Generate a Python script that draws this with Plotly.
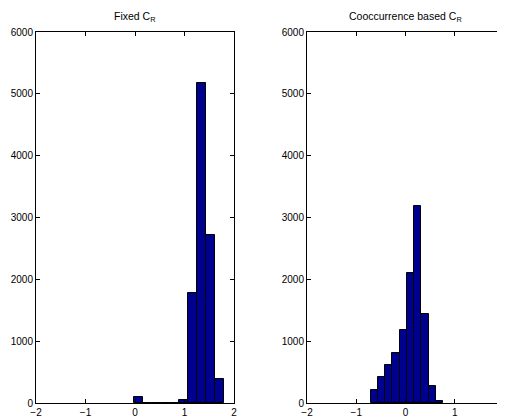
import plotly.graph_objects as go

# Left histogram (Fixed C_R)
fixed_centers = [0.07, 0.25, 0.43, 0.62, 0.80, 0.98, 1.16, 1.34, 1.53, 1.71]
fixed_counts = [105, 6, 6, 6, 6, 50, 1780, 5180, 2720, 385]
fixed_width = 0.182

# Right histogram (Cooccurrence based C_R)
cooc_centers = [-0.635, -0.488, -0.341, -0.194, -0.047, 0.100, 0.247, 0.394, 0.541, 0.688]
cooc_counts = [210, 416, 616, 805, 1178, 2097, 3189, 1432, 270, 38]
cooc_width = 0.147

titles = ["Fixed C<sub>R</sub>", "Cooccurrence based C<sub>R</sub>"]
x_ticks = [-2, -1, 0, 1, 2]
y_ticks = [0, 1000, 2000, 3000, 4000, 5000, 6000]

OFF = 8  # default page body margin
W, H = 505 - OFF, 417 - OFF
fig = go.Figure()
bar_color = "rgb(0,0,143)"
fig.add_trace(go.Bar(x=fixed_centers, y=fixed_counts, width=fixed_width,
                     marker=dict(color=bar_color, line=dict(color="black", width=1)),
                     xaxis="x", yaxis="y", showlegend=False))
fig.add_trace(go.Bar(x=cooc_centers, y=cooc_counts, width=cooc_width,
                     marker=dict(color=bar_color, line=dict(color="black", width=1)),
                     xaxis="x2", yaxis="y2", showlegend=False))

font = dict(family="Liberation Sans, Arial, sans-serif", size=10, color="black")
ydom = [1 - (403 - OFF) / H, 1 - (32 - OFF) / H]
xdoms = [[(36 - OFF) / W, (234 - OFF) / W], [(307 - OFF) / W, (504 - OFF) / W]]

def xaxis(dom, anchor, ticks):
    return dict(domain=dom, anchor=anchor, range=[-2, 2], tickvals=ticks,
                showline=True, linecolor="black", linewidth=1, mirror="ticks",
                ticks="inside", ticklen=4, tickcolor="black", showgrid=False,
                zeroline=False, automargin=False, tickfont=font)

def yaxis(anchor):
    return dict(domain=ydom, anchor=anchor, range=[0, 6000], tickvals=y_ticks,
                showline=True, linecolor="black", linewidth=1, mirror="ticks",
                ticks="inside", ticklen=4, tickcolor="black", showgrid=False,
                zeroline=False, automargin=False, tickfont=font)

fig.update_layout(
    width=W, height=H, margin=dict(l=0, r=0, t=0, b=0),
    paper_bgcolor="white", plot_bgcolor="white", font=font,
    xaxis=xaxis(xdoms[0], "y", x_ticks), yaxis=yaxis("x"),
    xaxis2=xaxis(xdoms[1], "y2", x_ticks), yaxis2=yaxis("x2"),
    bargap=0,
)
for dom, t in zip(xdoms, titles):
    fig.add_annotation(text=t, x=(dom[0] + dom[1]) / 2, y=1 - (17 - OFF) / H,
                       xref="paper", yref="paper", showarrow=False,
                       font=dict(family=font["family"], size=10.5, color="black"),
                       xanchor="center", yanchor="middle")

# last tick label of right axis sits at the page edge (partly cut off)
fig.add_annotation(text="2", x=x_ticks[-1], xref="x2", y=0, yref="paper",
                   showarrow=False, font=font, xanchor="center", yanchor="bottom",
                   yshift=-1)

fig.write_html("out.html")
